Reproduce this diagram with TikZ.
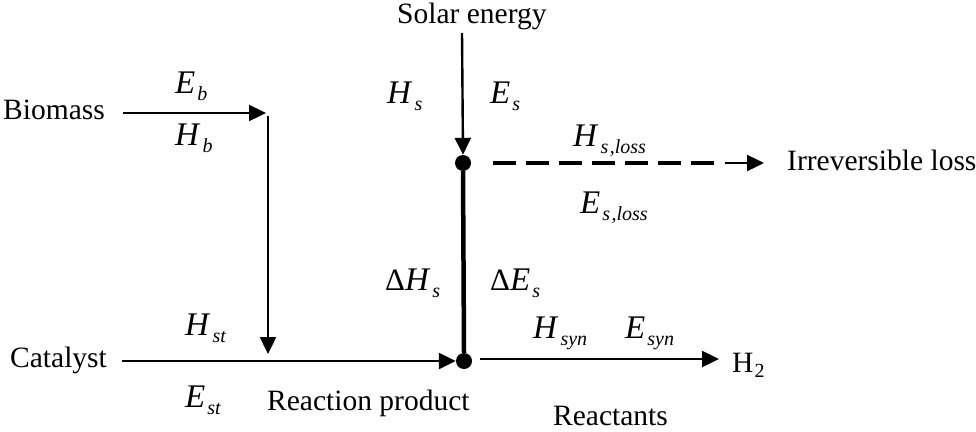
\documentclass[tikz,border=0pt]{standalone}
\usepackage{fontspec}
\setmainfont{Liberation Serif}
\usetikzlibrary{arrows.meta}
\newcommand\qsub[2]{{\fontsize{33}{36}\selectfont\textit{#1}}\kern2pt\raisebox{-7pt}{\fontsize{20}{20}\selectfont\textit{#2}}}
\newcommand\qdelta{{\fontsize{31}{36}\selectfont Δ}}
\begin{document}
\begin{tikzpicture}[x=1pt,y=-1pt, font=\fontsize{29.5}{32}\selectfont,
  txt/.style={inner sep=0pt, anchor=base west},
  flow/.style={line width=2.4pt, -{Triangle[length=17pt,width=16pt]}},
  dotnode/.style={circle, fill=black, inner sep=0pt, minimum size=16pt}]
\useasboundingbox (0,0) rectangle (976,431);

% text nodes
\node[txt] (biomass) at (3,119) {Biomass};
\node[txt] (catalyst) at (10,367) {Catalyst};
\node[txt] (solar) at (397,23) {Solar energy};
\node[txt] (loss) at (787,170) {Irreversible loss};
\node[txt] (h2) at (732,372) {H\kern1pt\raisebox{-5pt}{\fontsize{20}{20}\selectfont 2}};
\node[txt] (react) at (553,425) {Reactants};
\node[txt] (prod) at (267,410) {Reaction product};

% math labels
\node[txt] (Eb) at (175,93) {\qsub{E}{b}};
\node[txt] (Hb) at (175,145) {\qsub{H}{b}};
\node[txt] (Hs) at (387,103) {\qsub{H}{s}};
\node[txt] (Es) at (490,103) {\qsub{E}{s}};
\node[txt] (Hsl) at (573,146) {\qsub{H}{s\kern1.5pt,loss}};
\node[txt] (Esl) at (580,213) {\qsub{E}{s\kern1.5pt,loss}};
\node[txt] (dHs) at (385,290) {\qdelta\qsub{H}{s}};
\node[txt] (dEs) at (490,290) {\qdelta\qsub{E}{s}};
\node[txt] (Hsyn) at (533,338) {\qsub{H}{syn}};
\node[txt] (Esyn) at (625,338) {\qsub{E}{syn}};
\node[txt] (Hst) at (185,335) {\qsub{H}{st}};
\node[txt] (Est) at (185,407) {\qsub{E}{st}};

% junction dots
\node[dotnode] (topdot) at (463,163) {};
\node[dotnode] (botdot) at (464,361) {};

% coordinates
\coordinate (bmS) at (123,113);
\coordinate (bmE) at (266,113);
\coordinate (vtop) at (268,116);
\coordinate (vbot) at (268,354);
\coordinate (catS) at (122,361);
\coordinate (solS) at (462,33);
\coordinate (dashS) at (484,163);
\coordinate (dashE) at (716,163);
\coordinate (lossS) at (725,163);
\coordinate (lossE) at (764,163);
\coordinate (h2S) at (480,359);
\coordinate (h2E) at (719,359);

% connectors
\draw[flow] (bmS) -- (bmE);
\draw[flow] (vtop) -- (vbot);
\draw[flow] (catS) -- (botdot.west);
\draw[flow] (solS) -- (topdot.north);
\draw[line width=4.5pt] (topdot.south) -- (botdot.north);
\draw[line width=3.5pt, dash pattern=on 23pt off 10pt, dash phase=-9pt] (dashS) -- (dashE);
\draw[flow] (lossS) -- (lossE);
\draw[flow] (h2S) -- (h2E);
\end{tikzpicture}
\end{document}
